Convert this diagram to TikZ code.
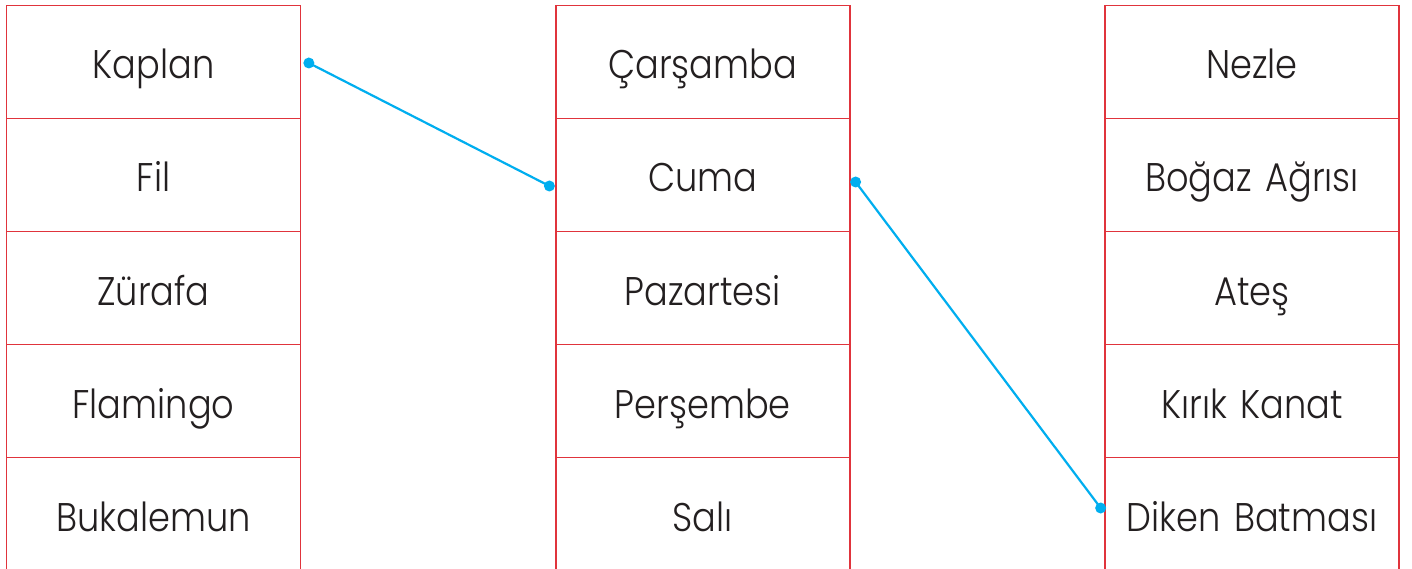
\documentclass[tikz,border=0pt]{standalone}
\usepackage{fontspec}
\setmainfont[FakeStretch=0.88,WordSpace=1.4]{Poppins Light}
\usetikzlibrary{calc}
\definecolor{boxred}{HTML}{E0343C}
\definecolor{linkblue}{HTML}{00AEEF}
\definecolor{ink}{HTML}{231F20}
\begin{document}
\begin{tikzpicture}[x=1pt,y=-1pt,
  cell/.style={draw=boxred,line width=1.7pt,minimum width=294pt,minimum height=113pt,inner sep=0pt,
    font=\fontsize{40}{44}\selectfont,text=ink,anchor=center,text height=34pt,text depth=0pt},
  link/.style={draw=linkblue,line width=2.2pt},
  dotc/.style={fill=linkblue}]
\useasboundingbox (0,0) rectangle (1412,569);
\clip (0,0) rectangle (1412,569);
\fill[white] (0,0) rectangle (1412,569);
% left column
\node[cell] (a1) at (153.5,62) {Kaplan};
\node[cell] (a2) at (153.5,175) {Fil};
\node[cell] (a3) at (153.5,288) {Zürafa};
\node[cell] (a4) at (153.5,401) {Flamingo};
\node[cell] (a5) at (153.5,514) {Bukalemun};
% middle column
\node[cell] (b1) at (702.75,62) {Çarşamba};
\node[cell] (b2) at (702.75,175) {Cuma};
\node[cell] (b3) at (702.75,288) {Pazartesi};
\node[cell] (b4) at (702.75,401) {Perşembe};
\node[cell] (b5) at (702.75,514) {Salı};
% right column
\node[cell] (c1) at (1252,62) {Nezle};
\node[cell] (c2) at (1252,175) {Boğaz Ağrısı};
\node[cell] (c3) at (1252,288) {Ateş};
\node[cell] (c4) at (1252,401) {Kırık Kanat};
\node[cell] (c5) at (1252,514) {Diken Batması};
% connectors
\coordinate (p1) at ($(a1.east)+(7.5,1)$);
\coordinate (p2) at ($(b2.west)+(-5.5,11)$);
\coordinate (p3) at ($(b2.east)+(5,7)$);
\coordinate (p4) at ($(c5.west)+(-3.5,-6)$);
\draw[link] (p1) -- (p2);
\draw[link] (p3) -- (p4);
\foreach \p in {p1,p2,p3,p4} \fill[dotc] (\p) circle (5.5pt);
\end{tikzpicture}
\end{document}
